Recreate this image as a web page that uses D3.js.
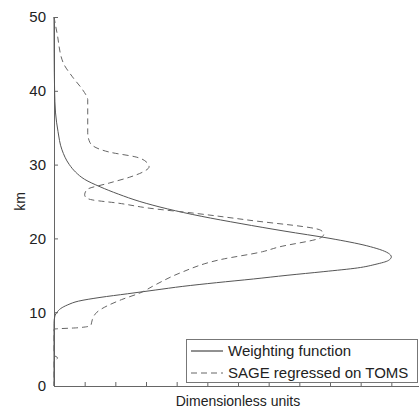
<!DOCTYPE html>
<html>
<head>
<meta charset="utf-8">
<script src="https://cdn.jsdelivr.net/npm/d3@7"></script>
<style>
  body { margin: 0; background: #fff; }
  text { font-family: "Liberation Sans", Arial, sans-serif; fill: #222; }
</style>
</head>
<body>
<div id="mount"></div>
<script>
// weighting function (km, dimensionless)
var kmWeight = [50, 45, 40, 37, 34.5, 32, 30, 29, 28, 27, 26, 25, 24, 23, 22, 21, 20, 19, 18, 17.5, 17, 16.5, 16, 15.5, 15, 14.5, 14, 13.5, 13, 12.5, 12, 11.5, 11, 10.5, 10, 9.5, 8.5, 0];
var weight   = [0, 0.0005, 0.002, 0.005, 0.013, 0.026, 0.05, 0.07, 0.10, 0.15, 0.21, 0.28, 0.37, 0.48, 0.61, 0.75, 0.90, 1.02, 1.09, 1.10, 1.09, 1.05, 0.99, 0.88, 0.76, 0.65, 0.53, 0.42, 0.33, 0.24, 0.15, 0.08, 0.045, 0.022, 0.01, 0.003, 0, 0];

// SAGE regressed on TOMS
var kmSage = [50, 47.8, 43.8, 41.9, 40.1, 39.2, 38.8, 34.3, 33.0, 31.7, 31.0, 30.4, 29.7, 29.0, 28.3, 27.5, 26.6, 25.9, 25.5, 25.2, 24.8, 24.1, 23.4, 22.5, 21.1, 20.6, 20.1, 18.8, 18.2, 17.1, 15.3, 13.7, 12.6, 11.7, 10.0, 9.0, 8.2, 7.9, 7.7, 4.2, 3.8, 3.4, 0];
var sage   = [0, 0.01, 0.03, 0.06, 0.094, 0.107, 0.11, 0.11, 0.117, 0.18, 0.27, 0.30, 0.31, 0.29, 0.247, 0.18, 0.107, 0.10, 0.105, 0.127, 0.205, 0.31, 0.46, 0.63, 0.87, 0.88, 0.87, 0.73, 0.68, 0.54, 0.41, 0.33, 0.28, 0.22, 0.14, 0.125, 0.12, 0.08, 0, 0, 0.012, 0, 0];

var yTicks = [0, 10, 20, 30, 40, 50];
var xTicks = d3.range(0, 13).map(function (i) { return i / 10; });
var legendLabels = ['Weighting function', 'SAGE regressed on TOMS'];

var width = 419, height = 412;
var mLeft = 54, mRight = 422, mTop = 17, mBottom = 386;

var x = d3.scaleLinear().domain([0, 1.2]).range([mLeft, mRight]);
var y = d3.scaleLinear().domain([0, 50]).range([mBottom, mTop]);

var $svg = d3.select('#mount')
  .append('svg')
  .attr('width', width)
  .attr('height', height);

// y axis, ticks pointing inward
var yAxis = d3.axisLeft(y).tickValues(yTicks).tickSizeInner(-4).tickSizeOuter(0).tickPadding(8);
var $y = $svg.append('g').attr('transform', 'translate(' + mLeft + ',0)').call(yAxis);
$y.selectAll('text').style('font-size', '15px');

// x axis, no labels
var xAxis = d3.axisBottom(x).tickValues(xTicks).tickSizeInner(-4).tickSizeOuter(0).tickFormat('');
$svg.append('g').attr('transform', 'translate(0,' + mBottom + ')').call(xAxis);

$svg.selectAll('.domain, .tick line').attr('stroke', '#666');

var line = function (ks, vs) {
  return d3.line()
    .x(function (d, i) { return x(vs[i]); })
    .y(function (d) { return y(d); })
    .curve(d3.curveMonotoneY)(ks);
};

$svg.append('path')
  .attr('d', line(kmWeight, weight))
  .attr('fill', 'none')
  .attr('stroke', '#555')
  .attr('stroke-width', 1);

$svg.append('path')
  .attr('d', line(kmSage, sage))
  .attr('fill', 'none')
  .attr('stroke', '#666')
  .attr('stroke-width', 1)
  .attr('stroke-dasharray', '6,4');

// axis titles
$svg.append('text')
  .attr('transform', 'translate(25,' + ((mTop + mBottom) / 2) + ') rotate(-90)')
  .attr('text-anchor', 'middle')
  .style('font-size', '14px')
  .text('km');

$svg.append('text')
  .attr('x', (mLeft + mRight) / 2)
  .attr('y', 406)
  .attr('text-anchor', 'middle')
  .style('font-size', '14px')
  .text('Dimensionless units');

// legend
var $leg = $svg.append('g');
$leg.append('rect')
  .attr('x', 186.5).attr('y', 339.5)
  .attr('width', 231).attr('height', 43)
  .attr('fill', '#fff')
  .attr('stroke', '#777');

legendLabels.forEach(function (lab, i) {
  var ly = 351 + i * 22;
  $leg.append('line')
    .attr('x1', 191).attr('x2', 223)
    .attr('y1', ly).attr('y2', ly)
    .attr('stroke', i === 0 ? '#222' : '#666')
    .attr('stroke-dasharray', i === 0 ? null : '6,4');
  $leg.append('text')
    .attr('x', 228).attr('y', ly + 5)
    .style('font-size', '15px')
    .text(lab);
});
</script>
</body>
</html>
